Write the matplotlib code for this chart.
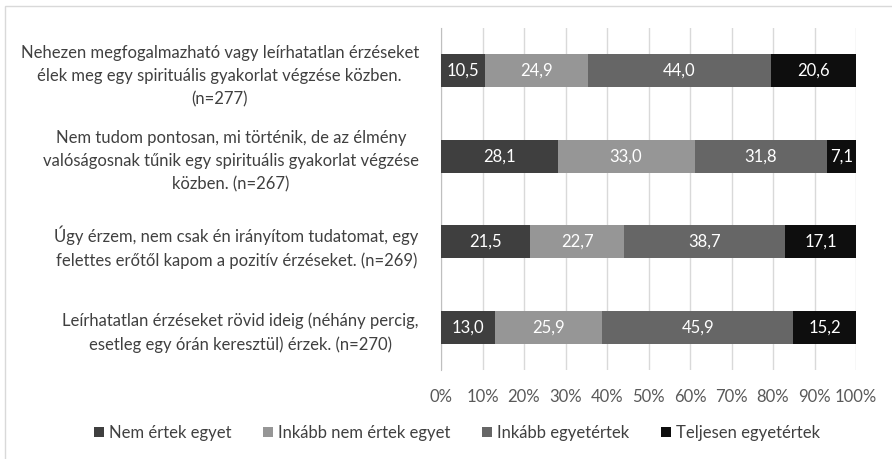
import numpy as np
import matplotlib
matplotlib.use("Agg")
from matplotlib import pyplot as plt
from matplotlib.patches import Rectangle

plt.rcParams['font.family'] = ['Lato', 'DejaVu Sans']

categories = [
    "Nehezen megfogalmazható vagy leírhatatlan érzéseket\nélek meg egy spirituális gyakorlat végzése közben.\n(n=277)",
    "Nem tudom pontosan, mi történik, de az élmény\nvalóságosnak tűnik egy spirituális gyakorlat végzése\nközben. (n=267)",
    "Úgy érzem, nem csak én irányítom tudatomat, egy\nfelettes erőtől kapom a pozitív érzéseket. (n=269)",
    "Leírhatatlan érzéseket rövid ideig (néhány percig,\nesetleg egy órán keresztül) érzek. (n=270)",
]
series_names = ["Nem értek egyet", "Inkább nem értek egyet", "Inkább egyetértek", "Teljesen egyetértek"]
nem_ertek = [10.5, 28.1, 21.5, 13.0]
inkabb_nem = [24.9, 33.0, 22.7, 25.9]
inkabb_egyet = [44.0, 31.8, 38.7, 45.9]
teljesen = [20.6, 7.1, 17.1, 15.2]
colors = ['#3f3f3f', '#969696', '#666666', '#0e0e0e']

W, H = 892, 459
fig = plt.figure(figsize=(W / 100, H / 100), dpi=100)
ax = fig.add_axes([441 / W, 1 - 370 / H, (856 - 441) / W, (370 - 28) / H])

# outer chart frame
fig.patches.append(Rectangle((5 / W, -0.1), 1.1, 1 - 6 / H + 0.1, transform=fig.transFigure,
                             fill=False, edgecolor='#d9d9d9', linewidth=1))

y = np.arange(len(categories))
left = np.zeros(len(categories))
for name, vals, c in zip(series_names, [nem_ertek, inkabb_nem, inkabb_egyet, teljesen], colors):
    bars = ax.barh(y, vals, left=left, height=0.39, color=c, label=name, zorder=3)
    for b, v in zip(bars, vals):
        ax.text(b.get_x() + b.get_width() / 2, b.get_y() + b.get_height() / 2,
                f"{v:.1f}".replace('.', ','), ha='center', va='center',
                color='white', fontsize=12, zorder=4)
    left += np.array(vals)

ax.set_xlim(0, 100)
ax.set_ylim(len(categories) - 0.5, -0.5)
ax.set_xticks(np.arange(0, 101, 10))
ax.set_xticklabels([f"{t}%" for t in range(0, 101, 10)], fontsize=12, color='#595959')
ax.set_yticks(y)
ax.set_yticklabels(categories, fontsize=12, color='#404040', multialignment='center', linespacing=1.55)
ax.tick_params(axis='both', length=0)
ax.tick_params(axis='y', pad=16)
ax.tick_params(axis='x', pad=14)
ax.grid(axis='x', color='#d9d9d9', linewidth=1, zorder=0)
for s in ['top', 'right', 'bottom']:
    ax.spines[s].set_visible(False)
ax.spines['left'].set_color('#bfbfbf')

fig.legend(loc='center', bbox_to_anchor=(457 / W, 1 - 433 / H), ncol=4, frameon=False,
           fontsize=12, handlelength=0.6, handleheight=0.6, handletextpad=0.3,
           columnspacing=1.9, labelcolor='#404040')

plt.savefig("out.png", dpi=100)
